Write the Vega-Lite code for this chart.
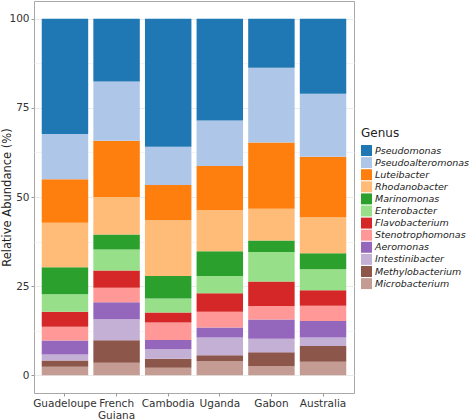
{
  "$schema": "https://vega.github.io/schema/vega-lite/v6.json",
  "autosize": {"type": "none"},
  "width": 320,
  "height": 392,
  "padding": {"left": 34, "top": 1, "right": 118, "bottom": 27},
  "background": "white",
  "config": {
    "font": "DejaVu Sans",
    "view": {"stroke": "#a8a8a8", "strokeWidth": 1}
  },
  "data": {
    "values": [
      {"site": "Guadeloupe", "genus": "Microbacterium", "value": 2.4},
      {"site": "Guadeloupe", "genus": "Methylobacterium", "value": 1.7},
      {"site": "Guadeloupe", "genus": "Intestinibacter", "value": 1.7},
      {"site": "Guadeloupe", "genus": "Aeromonas", "value": 3.9},
      {"site": "Guadeloupe", "genus": "Stenotrophomonas", "value": 3.9},
      {"site": "Guadeloupe", "genus": "Flavobacterium", "value": 4.2},
      {"site": "Guadeloupe", "genus": "Enterobacter", "value": 4.9},
      {"site": "Guadeloupe", "genus": "Marinomonas", "value": 7.6},
      {"site": "Guadeloupe", "genus": "Rhodanobacter", "value": 12.5},
      {"site": "Guadeloupe", "genus": "Luteibacter", "value": 12.2},
      {"site": "Guadeloupe", "genus": "Pseudoalteromonas", "value": 12.7},
      {"site": "Guadeloupe", "genus": "Pseudomonas", "value": 32.3},
      {"site": "French Guiana", "genus": "Microbacterium", "value": 3.5},
      {"site": "French Guiana", "genus": "Methylobacterium", "value": 6.3},
      {"site": "French Guiana", "genus": "Intestinibacter", "value": 5.9},
      {"site": "French Guiana", "genus": "Aeromonas", "value": 4.8},
      {"site": "French Guiana", "genus": "Stenotrophomonas", "value": 4.0},
      {"site": "French Guiana", "genus": "Flavobacterium", "value": 4.9},
      {"site": "French Guiana", "genus": "Enterobacter", "value": 5.9},
      {"site": "French Guiana", "genus": "Marinomonas", "value": 4.2},
      {"site": "French Guiana", "genus": "Rhodanobacter", "value": 10.5},
      {"site": "French Guiana", "genus": "Luteibacter", "value": 15.8},
      {"site": "French Guiana", "genus": "Pseudoalteromonas", "value": 16.6},
      {"site": "French Guiana", "genus": "Pseudomonas", "value": 17.6},
      {"site": "Cambodia", "genus": "Microbacterium", "value": 2.1},
      {"site": "Cambodia", "genus": "Methylobacterium", "value": 2.5},
      {"site": "Cambodia", "genus": "Intestinibacter", "value": 2.7},
      {"site": "Cambodia", "genus": "Aeromonas", "value": 2.6},
      {"site": "Cambodia", "genus": "Stenotrophomonas", "value": 4.9},
      {"site": "Cambodia", "genus": "Flavobacterium", "value": 2.8},
      {"site": "Cambodia", "genus": "Enterobacter", "value": 3.9},
      {"site": "Cambodia", "genus": "Marinomonas", "value": 6.3},
      {"site": "Cambodia", "genus": "Rhodanobacter", "value": 15.7},
      {"site": "Cambodia", "genus": "Luteibacter", "value": 9.9},
      {"site": "Cambodia", "genus": "Pseudoalteromonas", "value": 10.7},
      {"site": "Cambodia", "genus": "Pseudomonas", "value": 35.9},
      {"site": "Uganda", "genus": "Microbacterium", "value": 3.9},
      {"site": "Uganda", "genus": "Methylobacterium", "value": 1.7},
      {"site": "Uganda", "genus": "Intestinibacter", "value": 5.0},
      {"site": "Uganda", "genus": "Aeromonas", "value": 2.8},
      {"site": "Uganda", "genus": "Stenotrophomonas", "value": 4.4},
      {"site": "Uganda", "genus": "Flavobacterium", "value": 5.2},
      {"site": "Uganda", "genus": "Enterobacter", "value": 4.8},
      {"site": "Uganda", "genus": "Marinomonas", "value": 7.0},
      {"site": "Uganda", "genus": "Rhodanobacter", "value": 11.5},
      {"site": "Uganda", "genus": "Luteibacter", "value": 12.4},
      {"site": "Uganda", "genus": "Pseudoalteromonas", "value": 12.8},
      {"site": "Uganda", "genus": "Pseudomonas", "value": 28.5},
      {"site": "Gabon", "genus": "Microbacterium", "value": 2.6},
      {"site": "Gabon", "genus": "Methylobacterium", "value": 3.8},
      {"site": "Gabon", "genus": "Intestinibacter", "value": 3.8},
      {"site": "Gabon", "genus": "Aeromonas", "value": 5.4},
      {"site": "Gabon", "genus": "Stenotrophomonas", "value": 3.8},
      {"site": "Gabon", "genus": "Flavobacterium", "value": 6.9},
      {"site": "Gabon", "genus": "Enterobacter", "value": 8.3},
      {"site": "Gabon", "genus": "Marinomonas", "value": 3.2},
      {"site": "Gabon", "genus": "Rhodanobacter", "value": 8.9},
      {"site": "Gabon", "genus": "Luteibacter", "value": 18.6},
      {"site": "Gabon", "genus": "Pseudoalteromonas", "value": 21.0},
      {"site": "Gabon", "genus": "Pseudomonas", "value": 13.7},
      {"site": "Australia", "genus": "Microbacterium", "value": 3.8},
      {"site": "Australia", "genus": "Methylobacterium", "value": 4.4},
      {"site": "Australia", "genus": "Intestinibacter", "value": 2.4},
      {"site": "Australia", "genus": "Aeromonas", "value": 4.6},
      {"site": "Australia", "genus": "Stenotrophomonas", "value": 4.3},
      {"site": "Australia", "genus": "Flavobacterium", "value": 4.3},
      {"site": "Australia", "genus": "Enterobacter", "value": 5.9},
      {"site": "Australia", "genus": "Marinomonas", "value": 4.5},
      {"site": "Australia", "genus": "Rhodanobacter", "value": 10.1},
      {"site": "Australia", "genus": "Luteibacter", "value": 17.0},
      {"site": "Australia", "genus": "Pseudoalteromonas", "value": 17.7},
      {"site": "Australia", "genus": "Pseudomonas", "value": 21.0}
    ]
  },
  "transform": [
    {"calculate": "indexof(['Pseudomonas', 'Pseudoalteromonas', 'Luteibacter', 'Rhodanobacter', 'Marinomonas', 'Enterobacter', 'Flavobacterium', 'Stenotrophomonas', 'Aeromonas', 'Intestinibacter', 'Methylobacterium', 'Microbacterium'], datum.genus)", "as": "rank"}
  ],
  "mark": {"type": "bar", "stroke": null},
  "encoding": {
    "x": {
      "field": "site",
      "type": "nominal",
      "sort": ["Guadeloupe", "French Guiana", "Cambodia", "Uganda", "Gabon", "Australia"],
      "scale": {"paddingInner": 0.1, "paddingOuter": 0.15},
      "axis": {
        "title": null,
        "labelAngle": 0,
        "labelExpr": "datum.value == 'French Guiana' ? ['French', 'Guiana'] : datum.value",
        "labelFontSize": 10.5,
        "labelColor": "#333333",
        "labelPadding": 2,
        "tickSize": 3,
        "tickColor": "#999999",
        "domain": false,
        "grid": false,
        "labelLineHeight": 12
      }
    },
    "y": {
      "field": "value",
      "type": "quantitative",
      "stack": "zero",
      "scale": {"domain": [-5, 105], "nice": false, "zero": false},
      "axis": {
        "title": "Relative Abundance (%)",
        "titleFontSize": 11.5,
        "titleFontWeight": "normal",
        "titleColor": "#222222",
        "titlePadding": -4,
        "values": [0, 12.5, 25, 37.5, 50, 62.5, 75, 87.5, 100],
        "labelExpr": "datum.value % 25 == 0 ? datum.value : ''",
        "labelFontSize": 10.5,
        "labelColor": "#333333",
        "labelPadding": 2,
        "tickSize": 3,
        "tickColor": "#999999",
        "tickOpacity": {"condition": {"test": "datum.value % 25 != 0", "value": 0}, "value": 1},
        "domain": false,
        "grid": true,
        "gridColor": {"condition": {"test": "datum.value % 25 != 0", "value": "#f4f4f4"}, "value": "#ebebeb"}
      }
    },
    "color": {
      "field": "genus",
      "type": "nominal",
      "scale": {
        "domain": ["Pseudomonas", "Pseudoalteromonas", "Luteibacter", "Rhodanobacter", "Marinomonas", "Enterobacter", "Flavobacterium", "Stenotrophomonas", "Aeromonas", "Intestinibacter", "Methylobacterium", "Microbacterium"],
        "range": ["#1f77b4", "#aec7e8", "#ff7f0e", "#ffbb78", "#2ca02c", "#98df8a", "#d62728", "#ff9896", "#9467bd", "#c5b0d5", "#8c564b", "#c49c94"]
      },
      "legend": {
        "title": "Genus",
        "titleFontSize": 12,
        "titleFontWeight": "normal",
        "titleColor": "#222222",
        "labelFontSize": 9.5,
        "labelFontStyle": "italic",
        "labelColor": "#222222",
        "symbolType": "square",
        "symbolSize": 120,
        "symbolStrokeWidth": 0,
        "rowPadding": 1.1,
        "labelOffset": 3,
        "orient": "none",
        "legendX": 327,
        "legendY": 127
      }
    },
    "order": {"field": "rank", "type": "quantitative", "sort": "descending"}
  }
}
